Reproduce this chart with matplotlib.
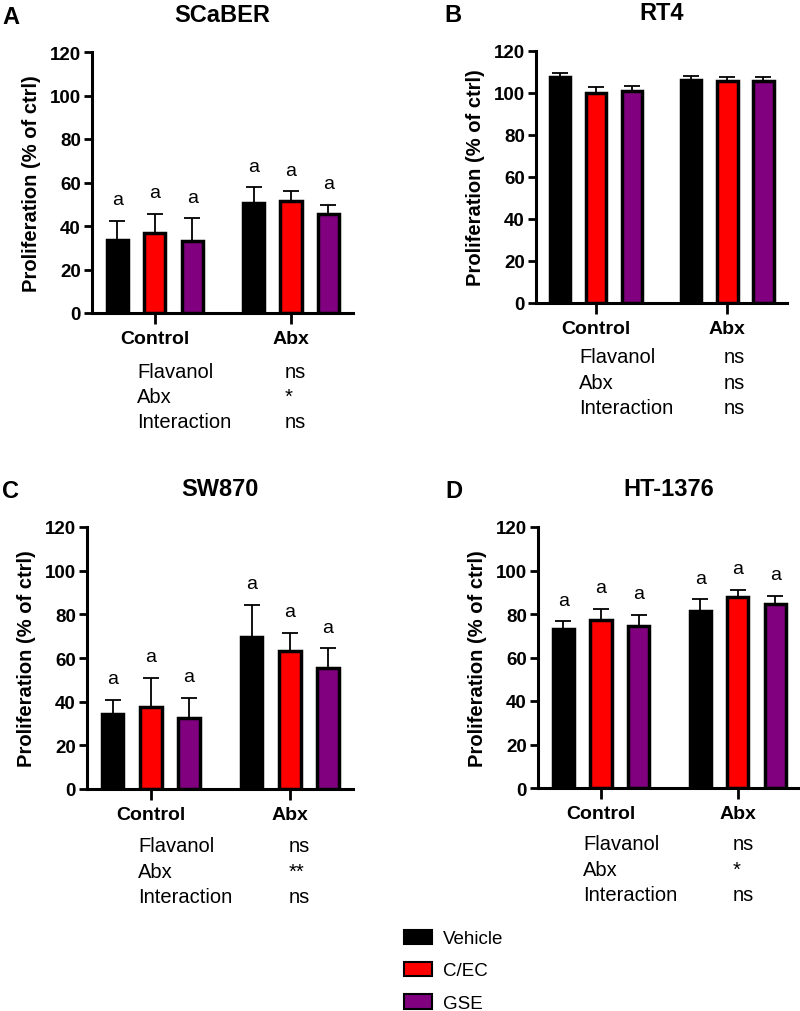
import numpy as np
import matplotlib
matplotlib.use('Agg')
import matplotlib.pyplot as plt
from matplotlib.patches import Patch

plt.rcParams['font.family'] = ['Liberation Sans', 'DejaVu Sans']

groups = ['Control', 'Abx']
treatments = ['Vehicle', 'C/EC', 'GSE']
colors = ['#000000', '#ff0000', '#800080']
effects = ['Flavanol', 'Abx', 'Interaction']

# rows = treatments (Vehicle, C/EC, GSE), columns = groups (Control, Abx)
scaber_mean = [[33.6, 50.5], [36.7, 51.4], [33.0, 45.6]]
scaber_err = [[8.9, 7.3], [8.9, 4.6], [10.6, 4.2]]
scaber_sig = ['ns', '*', 'ns']

rt4_mean = [[107.8, 106.3], [100.0, 105.6], [100.8, 105.6]]
rt4_err = [[1.6, 2.0], [3.0, 1.9], [2.5, 1.9]]
rt4_sig = ['ns', 'ns', 'ns']

sw870_mean = [[34.2, 69.4], [37.6, 63.3], [32.3, 55.4]]
sw870_err = [[6.6, 15.0], [13.2, 8.1], [9.6, 9.1]]
sw870_sig = ['ns', '**', 'ns']

ht1376_mean = [[73.0, 81.5], [77.2, 87.6], [74.6, 84.7]]
ht1376_err = [[3.7, 5.2], [5.2, 3.5], [4.9, 3.7]]
ht1376_sig = ['ns', '*', 'ns']

W, H = 800, 1012
fig = plt.figure(figsize=(W / 100, H / 100), dpi=100)


def px_axes(left, top, right, bottom):
    return fig.add_axes([left / W, 1 - bottom / H, (right - left) / W, (bottom - top) / H])


def fig_text(x, y, s, **kw):
    fig.text(x / W, 1 - y / H, s, **kw)


def panel(box, title, letter, letter_x, means, errs, sig, letters, stat_xy):
    left, top, right, bottom = box
    ax = px_axes(left, top, right, bottom)
    x = np.arange(len(groups))
    offs = [-0.275, 0.0, 0.275]
    for i in range(len(treatments)):
        m = np.array(means[i])
        e = np.array(errs[i])
        ax.bar(x + offs[i], m, width=0.155, color=colors[i], edgecolor='black',
               linewidth=2.5, zorder=2)
        ax.errorbar(x + offs[i], m, yerr=[np.zeros_like(e), e], fmt='none',
                    ecolor='black', elinewidth=1.3, capsize=6, capthick=1.3, zorder=3)
        if letters:
            for xi, top_v in zip(x + offs[i], m + e):
                ax.annotate('a', (xi, top_v), xytext=(0, 12), textcoords='offset points',
                            ha='center', va='baseline', fontsize=14)
    ax.set_ylim(0, 120)
    ax.set_yticks(range(0, 121, 20))
    ax.set_xlim(-0.46, 1.455)
    ax.set_xticks(x)
    ax.set_xticklabels(groups, fontsize=14, fontweight='bold')
    for lab in ax.get_yticklabels():
        lab.set_fontweight('bold')
        lab.set_fontsize(13.5)
    ax.tick_params(axis='y', width=2, length=6, pad=2)
    ax.tick_params(axis='x', width=2, length=8, pad=4)
    for s in ['top', 'right']:
        ax.spines[s].set_visible(False)
    for s in ['left', 'bottom']:
        ax.spines[s].set_linewidth(2.2)
    ax.set_ylabel('Proliferation (% of ctrl)', fontsize=14.5, fontweight='bold', labelpad=6)
    fig_text((left + right) / 2, top - 38, title, ha='center', va='center',
             fontsize=17, fontweight='bold')
    fig_text(letter_x, top - 36, letter, ha='left', va='center',
             fontsize=17, fontweight='bold')
    sx1, sx2, sy = stat_xy
    for k in range(len(effects)):
        fig_text(sx1, sy + k * 25.5, effects[k], ha='left', va='center', fontsize=14.5)
        fig_text(sx2, sy + k * 25.5, sig[k], ha='left', va='center', fontsize=14.5)
    return ax


panel((92, 53, 353, 314), 'SCaBER', 'A', 2, scaber_mean, scaber_err, scaber_sig, True, (137, 285, 372))
panel((536, 52, 787, 304), 'RT4', 'B', 444, rt4_mean, rt4_err, rt4_sig, False, (579, 724, 358))
panel((87, 528, 353, 790), 'SW870', 'C', 2, sw870_mean, sw870_err, sw870_sig, True, (138, 289, 847))
panel((538, 528, 800, 789), 'HT-1376', 'D', 445, ht1376_mean, ht1376_err, ht1376_sig, True, (583, 733, 845))

handles = [Patch(facecolor=c, edgecolor='black', linewidth=1.5) for c in colors]
fig.legend(handles, treatments, loc='upper left', bbox_to_anchor=(396 / W, 1 - 923 / H),
           frameon=False, fontsize=13.5, handlelength=1.5, handleheight=0.85,
           labelspacing=0.75, handletextpad=0.6, borderaxespad=0, borderpad=0.4)

fig.savefig('out.png', dpi=100)
